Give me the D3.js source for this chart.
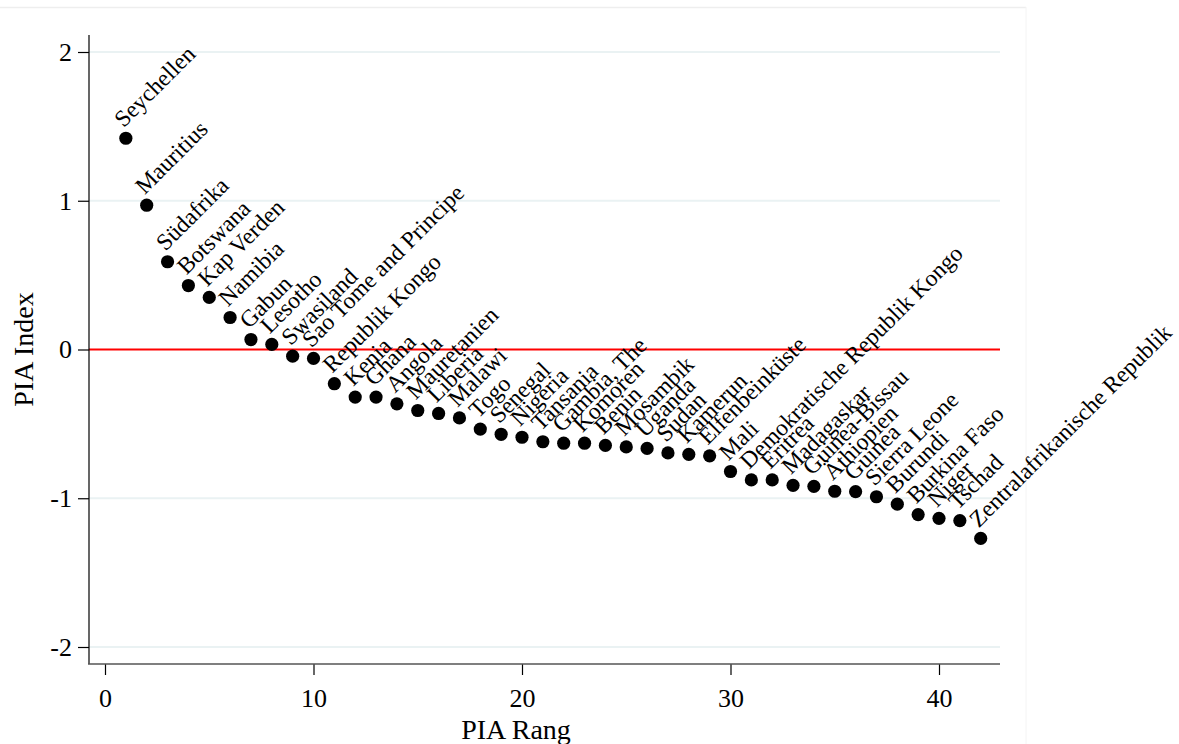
<!DOCTYPE html>
<html>
<head>
<meta charset="utf-8">
<script src="https://cdn.jsdelivr.net/npm/d3@7"></script>
<style>
  body { margin: 0; background: #fff; }
  svg { display: block; font-family: "Liberation Serif", "DejaVu Serif", serif; }
</style>
</head>
<body>
<svg id="chart"></svg>
<script>
// PIA Rang (x) and PIA Index (y) per country
const countries = [
  "Seychellen", "Mauritius", "Südafrika", "Botswana", "Kap Verden", "Namibia",
  "Gabun", "Lesotho", "Swasiland", "Sao Tome and Principe", "Republik Kongo",
  "Kenia", "Ghana", "Angola", "Mauretanien", "Liberia", "Malawi", "Togo",
  "Senegal", "Nigeria", "Tansania", "Gambia, The", "Komoren", "Benin",
  "Mosambik", "Uganda", "Sudan", "Kamerun", "Elfenbeinküste", "Mali",
  "Demokratische Republik Kongo", "Eritrea", "Madagaskar", "Guinea-Bissau",
  "Äthiopien", "Guinea", "Sierra Leone", "Burundi", "Burkina Faso", "Niger",
  "Tschad", "Zentralafrikanische Republik"
];
const ranks = d3.range(1, 43);
const piaIndex = [
  1.42, 0.97, 0.59, 0.43, 0.35, 0.215,
  0.067, 0.034, -0.045, -0.06, -0.23,
  -0.32, -0.32, -0.365, -0.41, -0.43, -0.46, -0.535,
  -0.57, -0.59, -0.62, -0.63, -0.63, -0.645,
  -0.655, -0.665, -0.695, -0.705, -0.715, -0.82,
  -0.877, -0.877, -0.913, -0.92,
  -0.953, -0.955, -0.99, -1.04, -1.11, -1.135,
  -1.15, -1.27
];
const xTicks = [0, 10, 20, 30, 40];
const yTicks = [-2, -1, 0, 1, 2];
const gridTicks = [-2, -1, 1, 2];

const width = 1179, height = 744;
const svg = d3.select("#chart").attr("width", width).attr("height", height);

const x = d3.scaleLinear().domain([0, 40]).range([105, 939]);
const y = d3.scaleLinear().domain([-2, 2]).range([647, 52]);
const plotLeft = 89, plotRight = 1000, axisY = 664;

// faint outer frame of the graph region
svg.append("line").attr("x1", 0).attr("x2", 1026).attr("y1", 7.5).attr("y2", 7.5)
  .attr("stroke", "#eeeeee").attr("stroke-width", 1.5);
svg.append("line").attr("x1", 1026).attr("x2", 1026).attr("y1", 7).attr("y2", height)
  .attr("stroke", "#f4f4f4").attr("stroke-width", 1);

// grid lines
svg.append("g").selectAll("line").data(gridTicks).join("line")
  .attr("x1", plotLeft).attr("x2", plotRight)
  .attr("y1", d => y(d)).attr("y2", d => y(d))
  .attr("stroke", "#eaf2f3").attr("stroke-width", 2);

// reference line at 0
svg.append("line")
  .attr("x1", plotLeft).attr("x2", plotRight)
  .attr("y1", y(0)).attr("y2", y(0))
  .attr("stroke", "#ff0000").attr("stroke-width", 2.2);

// y axis (hyphen minus like the original)
const yAxis = svg.append("g").attr("transform", `translate(${plotLeft},0)`)
  .call(d3.axisLeft(y).tickValues(yTicks).tickSize(11).tickPadding(6).tickFormat(d => String(d)));
yAxis.select(".domain").remove();
yAxis.selectAll(".tick line").attr("stroke", "#000").attr("stroke-width", 1.2);
yAxis.selectAll(".tick text").attr("font-size", 26).attr("fill", "#000")
  .attr("font-family", "Liberation Serif");
svg.append("line").attr("x1", plotLeft).attr("x2", plotLeft).attr("y1", 35).attr("y2", axisY)
  .attr("stroke", "#000").attr("stroke-width", 1.2);

// x axis
const xAxis = svg.append("g").attr("transform", `translate(0,${axisY})`)
  .call(d3.axisBottom(x).tickValues(xTicks).tickSize(11).tickPadding(14));
xAxis.select(".domain").remove();
xAxis.selectAll(".tick line").attr("stroke", "#000").attr("stroke-width", 1.2);
xAxis.selectAll(".tick text").attr("font-size", 26).attr("fill", "#000")
  .attr("font-family", "Liberation Serif");
svg.append("line").attr("x1", plotLeft - 1).attr("x2", plotRight).attr("y1", axisY).attr("y2", axisY)
  .attr("stroke", "#555").attr("stroke-width", 1.6);

// axis titles
svg.append("text")
  .attr("transform", `translate(33,${y(0)}) rotate(-90)`)
  .attr("text-anchor", "middle").attr("font-size", 28).text("PIA Index");
svg.append("text")
  .attr("x", 516).attr("y", 739)
  .attr("text-anchor", "middle").attr("font-size", 28).text("PIA Rang");

// points and labels
const points = ranks.map((r, i) => ({ rank: r, value: piaIndex[i], name: countries[i] }));

svg.append("g").selectAll("circle").data(points).join("circle")
  .attr("cx", d => x(d.rank)).attr("cy", d => y(d.value))
  .attr("r", 6.6).attr("fill", "#000");

svg.append("g").selectAll("text").data(points).join("text")
  .attr("transform", d => `translate(${x(d.rank) - 2},${y(d.value) - 10}) rotate(-45)`)
  .attr("font-size", 23.5).attr("fill", "#000")
  .text(d => d.name);
</script>
</body>
</html>
